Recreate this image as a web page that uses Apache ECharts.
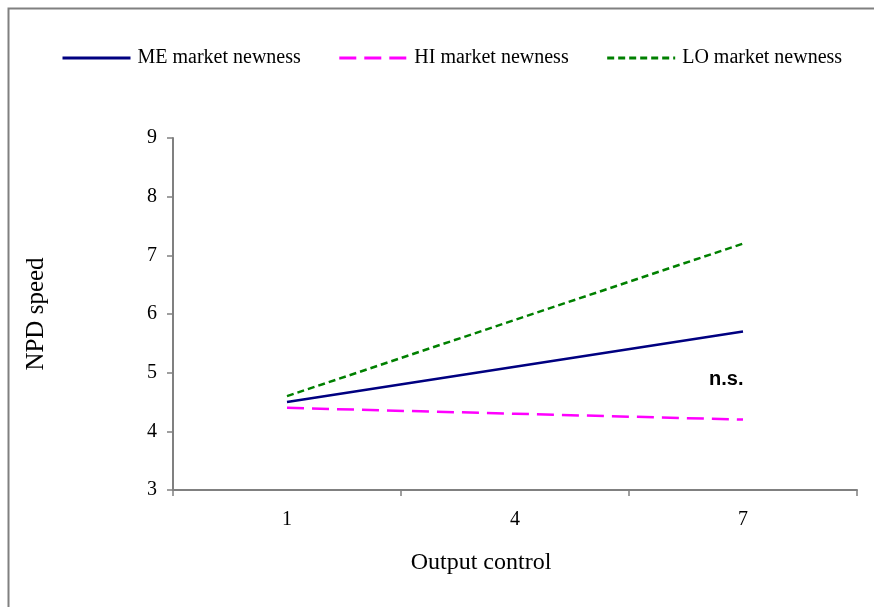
<!DOCTYPE html>
<html>
<head>
<meta charset="utf-8">
<script src="https://cdn.jsdelivr.net/npm/echarts@6/dist/echarts.min.js"></script>
<style>
  html, body { margin: 0; padding: 0; background: #fff; }
  #chart { width: 874px; height: 607px; }
</style>
</head>
<body>
<div id="chart"></div>
<script>
// output control levels (x axis)
const categories = ['1', '4', '7']
// NPD speed per market newness group
const meValues = [4.5, 5.1, 5.7]
const hiValues = [4.4, 4.3, 4.2]
const loValues = [4.6, 5.9, 7.2]
const seriesNames = ['ME market newness', 'HI market newness', 'LO market newness']
const yTicks = [3, 4, 5, 6, 7, 8, 9]

const serif = 'Liberation Serif'
const myChart = echarts.init(document.getElementById('chart'))

const option = {
  backgroundColor: '#fff',
  animation: false,
  legend: {
    left: 56,
    top: 43,
    itemWidth: 68,
    itemHeight: 14,
    itemGap: 37,
    itemStyle: { opacity: 0 },
    lineStyle: { width: 3 },
    textStyle: { fontFamily: serif, fontSize: 20, color: '#000', padding: [0, 0, 0, 2] },
    data: seriesNames
  },
  grid: {
    left: 173,
    right: 17,
    top: 138,
    bottom: 117
  },
  xAxis: {
    type: 'category',
    data: categories,
    boundaryGap: true,
    name: 'Output control',
    nameLocation: 'middle',
    nameGap: 61,
    nameTextStyle: { fontFamily: serif, fontSize: 24, color: '#000', padding: [0, 68, 0, 0] },
    axisLine: { lineStyle: { color: '#808080', width: 2 } },
    axisTick: { show: true, length: 6, lineStyle: { color: '#808080', width: 1.5 } },
    axisLabel: { fontFamily: serif, fontSize: 20, color: '#000', margin: 20 },
    splitLine: { show: false }
  },
  yAxis: {
    type: 'value',
    min: yTicks[0],
    max: yTicks[yTicks.length - 1],
    interval: 1,
    name: 'NPD speed',
    nameLocation: 'middle',
    nameGap: 124,
    nameTextStyle: { fontFamily: serif, fontSize: 25, color: '#000' },
    axisLine: { show: true, lineStyle: { color: '#808080', width: 2 } },
    axisTick: { show: true, length: 6, lineStyle: { color: '#808080', width: 1.5 } },
    axisLabel: { fontFamily: serif, fontSize: 20, color: '#000', margin: 16 },
    splitLine: { show: false }
  },
  series: [
    {
      name: seriesNames[0],
      type: 'line',
      data: meValues,
      symbol: 'none',
      lineStyle: { color: '#000080', width: 2.5 },
      itemStyle: { color: '#000080' }
    },
    {
      name: seriesNames[1],
      type: 'line',
      data: hiValues,
      symbol: 'none',
      lineStyle: { color: '#ff00ff', width: 2.5, type: [17, 8] },
      itemStyle: { color: '#ff00ff' }
    },
    {
      name: seriesNames[2],
      type: 'line',
      data: loValues,
      symbol: 'none',
      lineStyle: { color: '#008000', width: 2.5, type: [7, 4] },
      itemStyle: { color: '#008000' }
    }
  ],
  graphic: [
    {
      type: 'rect',
      shape: { x: 8.5, y: 8.5, width: 900, height: 700 },
      style: { fill: 'none', stroke: '#808080', lineWidth: 2 },
      silent: true
    },
    {
      type: 'text',
      left: 709,
      top: 369,
      style: { text: 'n.s.', font: 'bold 20px "Liberation Sans", Arial', fill: '#000' }
    }
  ]
}

myChart.setOption(option)
</script>
</body>
</html>
